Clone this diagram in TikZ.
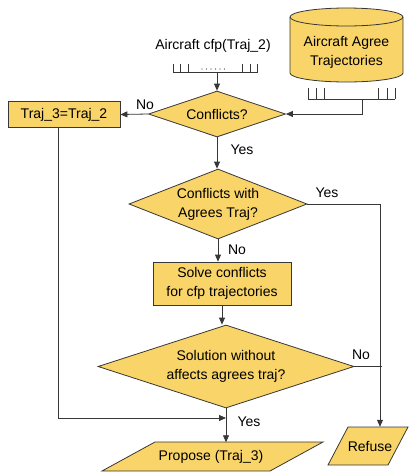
\documentclass[tikz,border=0pt]{standalone}
\usepackage{fontspec}
\setmainfont{Liberation Sans}
\usetikzlibrary{shapes.geometric,arrows.meta}
\definecolor{boxfill}{RGB}{249,212,104}
\definecolor{edge}{RGB}{55,55,55}
\begin{document}
\begin{tikzpicture}[x=1pt,y=-1pt,
  font=\fontsize{14}{19}\selectfont,
  every node/.style={inner sep=0pt},
  flow/.style={draw=edge,line width=0.8pt},
  arrowline/.style={flow,-{Triangle[length=7pt,width=6pt]}},
  decision/.style={diamond,draw=edge,fill=boxfill,line width=0.8pt,align=center},
  process/.style={rectangle,draw=edge,fill=boxfill,line width=0.8pt,align=center},
  iobox/.style={draw=edge,fill=boxfill,line width=0.8pt},
  lbl/.style={font=\fontsize{14}{16}\selectfont}
]
\useasboundingbox (0,0) rectangle (409,472);

% database cylinder
\fill[boxfill] (346.5,73) ellipse[x radius=56.5,y radius=9];
\fill[boxfill] (290,17) rectangle (403,73);
\draw[flow,fill=boxfill] (346.5,17) ellipse[x radius=56.5,y radius=9];
\draw[flow] (290,17) -- (290,73) arc[start angle=180,end angle=0,x radius=56.5,y radius=9] -- (403,17);
\node[align=center] (db) at (346.5,52) {Aircraft Agree\\Trajectories};

% record bus below the database
\draw[flow] (308,99) -- (395,99);
\foreach \t in {308,316,324,378,387,395} \draw[flow] (\t,99) -- (\t,88);
\coordinate (dbout) at (362,99);

% incoming cfp records
\node (cfp) at (213,46) {Aircraft cfp(Traj\_2)};
\draw[flow] (173,72) -- (258,72);
\foreach \t in {173,180,188,242,250,257} \draw[flow] (\t,72) -- (\t,64);
\foreach \t in {202,206.5,211,215.5,220,224.5} \fill[edge] (\t,69) circle[radius=0.6];
\coordinate (cfpout) at (217,72);

% decisions and processes
\node[decision,minimum width=137pt,minimum height=46pt,aspect=2.98] (d1) at (217,114) {Conflicts?};
\node[process,minimum width=112pt,minimum height=26pt] (t3) at (64,114.5) {Traj\_3=Traj\_2};
\node[decision,minimum width=178pt,minimum height=70pt,aspect=2.54] (d2) at (218,204) {Conflicts with\\Agrees Traj?};
\node[process,minimum width=138pt,minimum height=43pt] (solve) at (222,283.5) {Solve conflicts\\for cfp trajectories};
\node[decision,minimum width=256pt,minimum height=83pt,aspect=3.08] (d3) at (226,366.5) {Solution without\\affects agrees traj?};

% output parallelograms
\draw[iobox] (155,442) -- (323,442) -- (270,471) -- (102,471) -- cycle;
\node[minimum height=29pt] (prop) at (211,457) {Propose (Traj\_3)};
\draw[iobox] (348,427) -- (408,427) -- (388,465) -- (328,465) -- cycle;
\node[minimum height=38pt] (refuse) at (370,446) {Refuse};

\coordinate (rline) at (380,0);
\coordinate (join) at (226,418);

% connectors
\draw[arrowline] (cfpout) -- (d1.north);
\draw[arrowline] (dbout) |- (d1.east);
\draw[arrowline] (d1.west) -- (t3.east);
\draw[arrowline] (d1.south) -- (d1.south |- d2.north);
\draw[arrowline] (d2.south) -- (d2.south |- solve.north);
\draw[arrowline] (solve.south) -- (solve.south |- d3.north);
\draw[arrowline] (d3.south) -- (d3.south |- prop.north);
\draw[arrowline] (d2.east) -- (d2.east -| rline) -- (rline |- refuse.north);
\draw[flow] (d3.east) -- ([xshift=2pt]d3.east -| rline);
\draw[arrowline] ([xshift=-6pt]t3.south) |- (join);

% branch labels
\node[lbl] (l1) at (145,105) {No};
\node[lbl] (l2) at (242,150) {Yes};
\node[lbl] (l3) at (327,193) {Yes};
\node[lbl] (l4) at (237,250) {No};
\node[lbl] (l5) at (361,355) {No};
\node[lbl] (l6) at (249,422) {Yes};
\end{tikzpicture}
\end{document}
